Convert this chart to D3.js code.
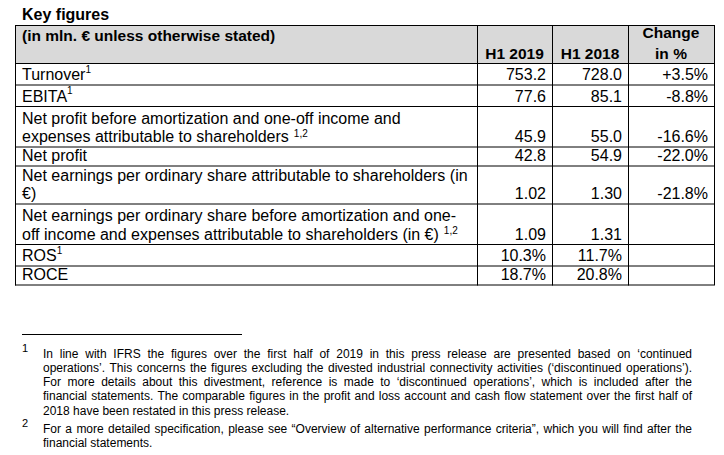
<!DOCTYPE html>
<html><head><meta charset="utf-8">
<script src="https://cdn.jsdelivr.net/npm/d3@7"></script>
<style>
body{margin:0;background:#fff}
svg text{font-family:"Liberation Sans",Arial,sans-serif;fill:#000}
</style>
</head><body><svg id="c" width="724" height="455"></svg>
<script>
// ---------- data ----------
const title = "Key figures";
const unitNote = "(in mln. € unless otherwise stated)";
const periodHeaders = ["H1 2019", "H1 2018"];
const changeHeader = ["Change", "in %"];
const labelLines = [
  ["Turnover"],
  ["EBITA"],
  ["Net profit before amortization and one-off income and", "expenses attributable to shareholders"],
  ["Net profit"],
  ["Net earnings per ordinary share attributable to shareholders (in", "€)"],
  ["Net earnings per ordinary share before amortization and one-", "off income and expenses attributable to shareholders (in €)"],
  ["ROS"],
  ["ROCE"]
];
const noteRefs = ["1", "1", "1,2", "", "", "1,2", "1", ""];
const noteSpaced = [false, false, true, false, false, true, false, false];
const valuesH12019 = [753.2, 77.6, 45.9, 42.8, 1.02, 1.09, 10.3, 18.7];
const valuesH12018 = [728.0, 85.1, 55.0, 54.9, 1.30, 1.31, 11.7, 20.8];
const changePct = [3.5, -8.8, -16.6, -22.0, -21.8, null, null, null];
const valueKind = ["mln", "mln", "mln", "mln", "eur", "eur", "pct", "pct"];
const footnoteNumbers = ["1", "2"];
const footnoteLines = [
  ["In line with IFRS the figures over the first half of 2019 in this press release are presented based on ‘continued",
   "operations’. This concerns the figures excluding the divested industrial connectivity activities (‘discontinued operations’).",
   "For more details about this divestment, reference is made to ‘discontinued operations’, which is included after the",
   "financial statements. The comparable figures in the profit and loss account and cash flow statement over the first half of",
   "2018 have been restated in this press release."],
  ["For a more detailed specification, please see “Overview of alternative performance criteria”, which you will find after the",
   "financial statements."]
];

// ---------- layout ----------
const svg = d3.select("#c");
const loc = d3.formatLocale({decimal: ".", thousands: ",", grouping: [3], currency: ["", ""], minus: "-"});
const fmt = {mln: loc.format(".1f"), eur: loc.format(".2f"), pct: v => loc.format(".1f")(v) + "%"};
const fmtChange = v => v == null ? "" : loc.format("+.1f")(v) + "%";

const tableLeft = 15, tableTop = 25, headerH = 38;
const colEdges = [15, 477, 552, 628, 714];
const lineH = 19, supExtra = 2.5;
const rowH = labelLines.map((l, i) => l.length * lineH + (noteRefs[i] ? supExtra : 0));
const rowTop = [0, ...d3.cumsum(rowH)].map(v => v + tableTop + headerH);
const tableBottom = rowTop[rowTop.length - 1];
const y = d3.scaleOrdinal().domain(d3.range(labelLines.length)).range(rowTop.slice(0, -1));

// title
svg.append("text").attr("x", 22).attr("y", 20).attr("font-size", 16).attr("font-weight", "bold").text(title);

// header background
svg.append("rect").attr("x", tableLeft).attr("y", tableTop).attr("width", colEdges[4] - tableLeft)
  .attr("height", headerH).attr("fill", "#d9d9d9");

// header texts
svg.append("text").attr("x", 22).attr("y", tableTop + 16).attr("font-size", 15.5).attr("font-weight", "bold").text(unitNote);
periodHeaders.forEach((h, i) => {
  svg.append("text").attr("x", (colEdges[i + 1] + colEdges[i + 2]) / 2).attr("y", tableTop + 34)
    .attr("text-anchor", "middle").attr("font-size", 15.5).attr("font-weight", "bold").text(h);
});
changeHeader.forEach((h, i) => {
  svg.append("text").attr("x", (colEdges[3] + colEdges[4]) / 2).attr("y", tableTop + 13 + i * 21)
    .attr("text-anchor", "middle").attr("font-size", 15.5).attr("font-weight", "bold").text(h);
});

// rows
const rows = svg.selectAll("g.row").data(labelLines).join("g").attr("class", "row")
  .attr("transform", (d, i) => `translate(0,${y(i)})`);
rows.each(function (lines, i) {
  const g = d3.select(this);
  const base = rowH[i] - 4.5;
  lines.forEach((ln, j) => {
    const ly = base - (lines.length - 1 - j) * 18.5;
    const t = g.append("text").attr("x", 22).attr("y", ly).attr("font-size", 16).text(ln);
    if (j === lines.length - 1 && noteRefs[i]) {
      const w = t.node().getComputedTextLength();
      const raise = lines.length > 1 ? 5.5 : 7.5;
      g.append("text").attr("x", 22 + w + (noteSpaced[i] ? 5 : 0)).attr("y", ly - raise)
        .attr("font-size", 10).text(noteRefs[i]);
    }
  });
  const vals = [fmt[valueKind[i]](valuesH12019[i]), fmt[valueKind[i]](valuesH12018[i]), fmtChange(changePct[i])];
  vals.forEach((v, k) => {
    g.append("text").attr("x", colEdges[k + 2] - 6).attr("y", base).attr("text-anchor", "end")
      .attr("font-size", 16).text(v);
  });
});

// grid lines
const hLines = [tableTop, tableTop + headerH, ...rowTop.slice(1)];
svg.selectAll("line.h").data(hLines).join("line").attr("class", "h")
  .attr("x1", tableLeft).attr("x2", colEdges[4]).attr("y1", d => d + 0.5).attr("y2", d => d + 0.5)
  .attr("stroke", "#000").attr("stroke-width", 1);
svg.selectAll("line.v").data(colEdges).join("line").attr("class", "v")
  .attr("x1", d => d + 0.5).attr("x2", d => d + 0.5).attr("y1", tableTop).attr("y2", tableBottom + 1)
  .attr("stroke", "#000").attr("stroke-width", 1);

// footnotes
svg.append("line").attr("x1", 22).attr("x2", 242).attr("y1", 334.5).attr("y2", 334.5).attr("stroke", "#000");
const fg = svg.append("g").attr("font-size", 12);
function measure(w) {
  const t = fg.append("text").text(w); const n = t.node().getComputedTextLength(); t.remove(); return n;
}
const spaceW = measure("a b") - measure("ab");
const fx0 = 43, fx1 = 692, fLine = 14.3;
const fStart = [357.5, 432.5];
footnoteLines.forEach((lines, fi) => {
  fg.append("text").attr("x", 22).attr("y", fStart[fi] - 6).attr("font-size", 11).text(footnoteNumbers[fi]);
  lines.forEach((ln, li) => {
    const words = ln.split(" ");
    const widths = words.map(measure);
    const justify = li < lines.length - 1 || (fi === 1 && li === 0);
    let gap = justify ? (fx1 - fx0 - d3.sum(widths)) / (words.length - 1) : spaceW;
    if (gap < spaceW * 0.6) gap = spaceW * 0.6;
    const t = fg.append("text").attr("y", fStart[fi] + li * fLine);
    let x = fx0;
    words.forEach((w, k) => { t.append("tspan").attr("x", x).text(w); x += widths[k] + gap; });
  });
});
</script></body></html>
